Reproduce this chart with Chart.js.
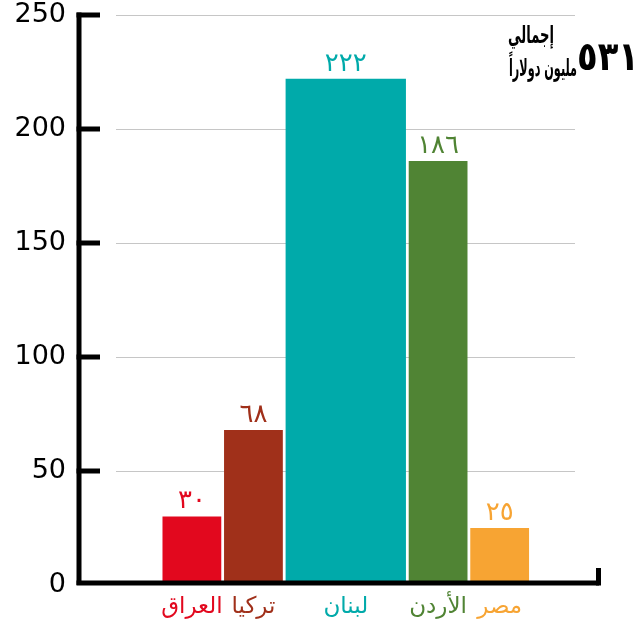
<!DOCTYPE html>
<html>
<head>
<meta charset="utf-8">
<script src="https://cdn.jsdelivr.net/npm/chart.js@4.4.1/dist/chart.umd.min.js"></script>
<style>
  html, body { margin: 0; padding: 0; background: #fff; }
  #wrap { width: 640px; height: 625px; }
</style>
</head>
<body>
<div id="wrap"><canvas id="chart"></canvas></div>
<script>
// data
var countries = ['العراق', 'تركيا', 'لبنان', 'الأردن', 'مصر'];
var values = [30, 68, 222, 186, 25];
var slots = [1, 1, 2, 1, 1];          // lebanon bar is twice as wide
var colors = ['#e2081e', '#a0301a', '#00aaaa', '#508434', '#f7a433'];
var yTicks = [0, 50, 100, 150, 200, 250];
var totalLine1 = 'إجمالي';
var totalLine2 = 'مليون دولاراً';

var arDigits = '٠١٢٣٤٥٦٧٨٩';
function toAr(n) {
  return String(n).replace(/\d/g, function (d) { return arDigits[d]; });
}

// bar centres on the x axis, from the slot widths
var xPos = [];
var acc = 0;
slots.forEach(function (s) { xPos.push(acc + s / 2); acc += s; });

var total = values.reduce(function (a, b) { return a + b; }, 0);

var datasets = countries.map(function (c, i) {
  return {
    label: c,
    data: [{ x: xPos[i], y: values[i] }],
    backgroundColor: colors[i],
    borderWidth: 0,
    barPercentage: slots[i] - 0.045,
    categoryPercentage: 1,
    grouped: false
  };
});

var arFont = '"DejaVu Sans", sans-serif';

var decor = {
  id: 'decor',
  beforeDatasetsDraw: function (chart) {
    var c = chart.ctx, a = chart.chartArea, ys = chart.scales.y;
    c.save();
    c.strokeStyle = '#c6c6c6';
    c.lineWidth = 1.2;
    yTicks.forEach(function (t) {
      if (t === 0) return;
      var y = Math.round(ys.getPixelForValue(t)) + 0.5;
      c.beginPath();
      c.moveTo(a.left + 38, y);
      c.lineTo(a.right - 25, y);
      c.stroke();
    });
    c.restore();
  },
  afterDatasetsDraw: function (chart) {
    var c = chart.ctx, a = chart.chartArea, ys = chart.scales.y;
    c.save();
    // axis bracket
    c.strokeStyle = '#000';
    c.lineWidth = 5;
    c.lineCap = 'butt';
    c.beginPath();
    c.moveTo(a.left + 1, a.top - 2.5);
    c.lineTo(a.left + 1, a.bottom);
    c.stroke();
    c.beginPath();
    c.moveTo(a.left - 1.5, a.bottom - 2);
    c.lineTo(a.right - 1, a.bottom - 2);
    c.stroke();
    c.beginPath();
    c.moveTo(a.right - 1.5, a.bottom + 0.5);
    c.lineTo(a.right - 1.5, a.bottom - 17);
    c.stroke();
    yTicks.forEach(function (t) {
      if (t === 0) return;
      var y = ys.getPixelForValue(t);
      c.beginPath();
      c.moveTo(a.left - 1.5, y);
      c.lineTo(a.left + 22, y);
      c.stroke();
    });

    // value labels above bars
    c.font = '26px ' + arFont;
    c.textAlign = 'center';
    c.textBaseline = 'bottom';
    chart.data.datasets.forEach(function (ds, i) {
      var bar = chart.getDatasetMeta(i).data[0];
      c.fillStyle = colors[i];
      c.fillText(toAr(values[i]), bar.x, bar.y - 2);
    });

    // total box, top right
    c.fillStyle = '#000';
    c.textBaseline = 'alphabetic';
    c.font = 'bold 24px ' + arFont;
    c.fillText(totalLine1, 531, 43, 46);
    c.fillText(totalLine2, 543, 76, 68);
    c.font = 'bold 40px ' + arFont;
    c.fillText(toAr(total), 608, 70, 62);
    c.restore();
  }
};

new Chart(document.getElementById('chart'), {
  type: 'bar',
  data: { datasets: datasets },
  options: {
    responsive: true,
    maintainAspectRatio: false,
    animation: false,
    layout: { padding: { top: 0, right: 40, left: 0, bottom: 0 } },
    plugins: { legend: { display: false }, tooltip: { enabled: false } },
    scales: {
      x: {
        type: 'linear',
        offset: false,
        min: -1.35,
        max: 7.13,
        grid: { display: false, drawTicks: false, offset: false },
        border: { display: false },
        afterBuildTicks: function (axis) {
          axis.ticks = xPos.map(function (v) { return { value: v }; });
        },
        afterFit: function (axis) { axis.height = 40; },
        ticks: {
          autoSkip: false,
          maxRotation: 0,
          padding: 8,
          font: { family: arFont, size: 23 },
          color: function (ctx) { return colors[ctx.index]; },
          callback: function (v, i) { return countries[i]; }
        }
      },
      y: {
        min: 0,
        max: 250,
        afterBuildTicks: function (axis) {
          axis.ticks = yTicks.map(function (v) { return { value: v }; });
        },
        afterFit: function (axis) {
          axis.width = 78;
          axis.paddingTop = 15;
          axis.paddingBottom = 0;
        },
        grid: { display: false, drawTicks: false },
        border: { display: false },
        ticks: {
          padding: 12,
          color: '#000',
          font: { family: '"DejaVu Sans", sans-serif', size: 27 }
        }
      }
    }
  },
  plugins: [decor]
});
</script>
</body>
</html>
